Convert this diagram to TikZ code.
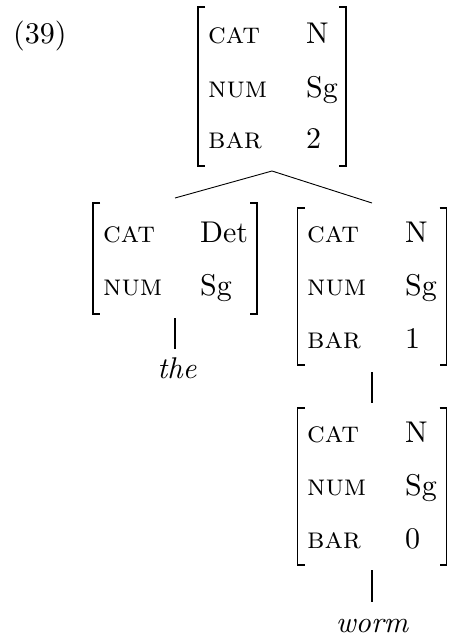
\documentclass[tikz,border=0pt]{standalone}
\usepackage{fontspec}
% design size 10 faces, scaled up
\setmainfont{lmroman10}[Extension=.otf,
  UprightFont=*-regular, ItalicFont=*-italic,
  BoldFont=*-bold, SmallCapsFont=lmromancaps10-regular]
\begin{document}
\fontsize{30}{34}\selectfont
\begin{tikzpicture}[x=1pt,y=-1pt,
  avmbox/.style={rectangle,draw=none,inner sep=0pt,outer sep=0pt},
  brk/.style={line width=1.7pt},
  feat/.style={anchor=base west,inner sep=0pt},
  wordnode/.style={anchor=base,inner sep=0pt,font=\itshape},
  branch/.style={line width=0.9pt},
  stem/.style={line width=2pt}]
\useasboundingbox (0,0) rectangle (448,637);

% square brackets around an attribute-value matrix
\newcommand\avmbrackets[1]{%
  \draw[brk] ([xshift=7pt]#1.north west) -- (#1.north west)
     -- (#1.south west) -- ([xshift=7pt]#1.south west);
  \draw[brk] ([xshift=-7pt]#1.north east) -- (#1.north east)
     -- (#1.south east) -- ([xshift=-7pt]#1.south east);}

\node[feat] (ex) at (13,43) {(39)};

% N'' (bar 2)
\node[avmbox,minimum width=148pt,minimum height=159pt] (top) at (272,86.5) {};
\avmbrackets{top}
\node[feat] (topcat) at (208,43) {\textsc{cat}};
\node[feat] (topnum) at (208,97) {\textsc{num}};
\node[feat] (topbar) at (208,148) {\textsc{bar}};
\node[feat] (topcatv) at (306,43) {N};
\node[feat] (topnumv) at (306,97) {Sg};
\node[feat] (topbarv) at (306,148) {2};

% Det
\node[avmbox,minimum width=164pt,minimum height=111pt] (det) at (175,258.5) {};
\avmbrackets{det}
\node[feat] (detcat) at (103,242) {\textsc{cat}};
\node[feat] (detnum) at (103,295) {\textsc{num}};
\node[feat] (detcatv) at (200,242) {Det};
\node[feat] (detnumv) at (200,295) {Sg};

% N' (bar 1)
\node[avmbox,minimum width=149pt,minimum height=157pt] (nbar) at (372,286.5) {};
\avmbrackets{nbar}
\node[feat] (nbarcat) at (307,242) {\textsc{cat}};
\node[feat] (nbarnum) at (307,295) {\textsc{num}};
\node[feat] (nbarbar) at (307,348) {\textsc{bar}};
\node[feat] (nbarcatv) at (405,242) {N};
\node[feat] (nbarnumv) at (405,295) {Sg};
\node[feat] (nbarbarv) at (405,348) {1};

% N (bar 0)
\node[avmbox,minimum width=149pt,minimum height=157pt] (noun) at (372,486.5) {};
\avmbrackets{noun}
\node[feat] (nouncat) at (307,442) {\textsc{cat}};
\node[feat] (nounnum) at (307,495) {\textsc{num}};
\node[feat] (nounbar) at (307,548) {\textsc{bar}};
\node[feat] (nouncatv) at (405,442) {N};
\node[feat] (nounnumv) at (405,495) {Sg};
\node[feat] (nounbarv) at (405,548) {0};

% words
\node[wordnode] (the) at (177,378) {the};
\node[wordnode] (worm) at (372,632) {worm};

% branches
\draw[branch] ([yshift=5pt]det.north) -- ([yshift=-5pt]top.south)
  -- ([yshift=5pt]nbar.north);
\draw[stem] ([yshift=-4pt]det.south) -- ([yshift=8pt]det.south |- the.north);
\draw[stem] ([yshift=-7pt]nbar.south) -- ([yshift=5pt]noun.north);
\draw[stem] ([yshift=-5pt]noun.south) -- ([yshift=17pt]noun.south |- worm.north);
\end{tikzpicture}
\end{document}
